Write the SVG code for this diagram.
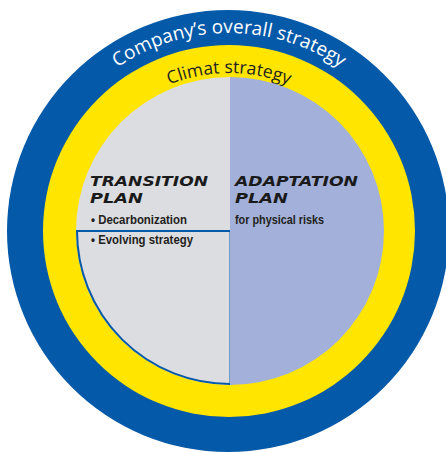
<svg xmlns="http://www.w3.org/2000/svg" width="446" height="452" viewBox="0 0 446 452">
<style>
.arc1{font-family:"Open Sans","Liberation Sans",sans-serif;font-size:19px;fill:#ffffff}
.arc2{font-family:"Open Sans","Liberation Sans",sans-serif;font-size:17.5px;fill:#231f20}
.head{font-family:"DejaVu Sans","Liberation Sans",sans-serif;font-weight:bold;font-style:italic;font-size:14.5px;fill:#1a1a1a}
.body{font-family:"Liberation Sans",sans-serif;font-weight:bold;font-size:12.5px;fill:#231f20}
</style>
<defs>
<path id="p1" d="M31,231 A198,198 0 0 1 427,231"/>
<path id="p2" d="M71,231 A158,158 0 0 1 387,231"/>
</defs>
<g id="outer">
<circle cx="228" cy="231" r="221" fill="#0559a9"/>
<text class="arc1"><textPath href="#p1" startOffset="50%" text-anchor="middle">Company’s overall strategy</textPath></text>
</g>
<g id="climat">
<circle cx="229" cy="231" r="186" fill="#ffe500"/>
<text class="arc2"><textPath href="#p2" startOffset="50%" text-anchor="middle">Climat strategy</textPath></text>
</g>
<g id="transition">
<path d="M230,77 A154,154 0 0 0 230,385 Z" fill="#dcdde0"/>
<path d="M77,231 L230.5,231 L230.5,384 A153,153 0 0 1 77,231 Z" fill="none" stroke="#0559a9" stroke-width="2"/>
<text class="head" x="90" y="186" textLength="118" lengthAdjust="spacingAndGlyphs">TRANSITION</text>
<text class="head" x="90" y="203" textLength="53" lengthAdjust="spacingAndGlyphs">PLAN</text>
<text class="body" x="91" y="224" textLength="96" lengthAdjust="spacingAndGlyphs">• Decarbonization</text>
<text class="body" x="91" y="244" textLength="102" lengthAdjust="spacingAndGlyphs">• Evolving strategy</text>
</g>
<g id="adaptation">
<path d="M230,77 A154,154 0 0 1 230,385 Z" fill="#a3b1da"/>
<text class="head" x="235" y="186" textLength="123" lengthAdjust="spacingAndGlyphs">ADAPTATION</text>
<text class="head" x="235" y="203" textLength="53" lengthAdjust="spacingAndGlyphs">PLAN</text>
<text class="body" x="235" y="224" textLength="89" lengthAdjust="spacingAndGlyphs">for physical risks</text>
</g>
<g id="connectors"/>
</svg>
